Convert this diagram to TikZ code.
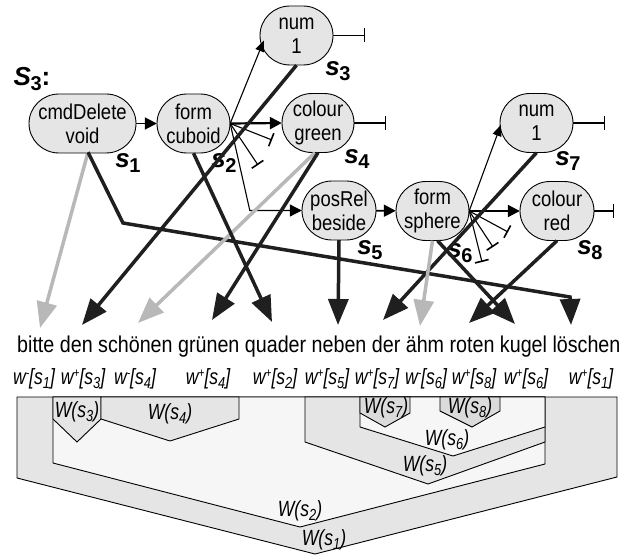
\documentclass[tikz,border=0pt]{standalone}
\usepackage{fontspec}
\setmainfont{Liberation Sans}
\newfontfamily\narrowsans[FakeStretch=0.8]{Liberation Sans}
\newfontfamily\textsans[FakeStretch=0.86]{Liberation Sans}
\usetikzlibrary{arrows.meta,calc}

\definecolor{nodefill}{gray}{0.9}
\definecolor{wordblack}{gray}{0.12}
\definecolor{wordgray}{gray}{0.72}
\definecolor{bandfill}{gray}{0.9}
\definecolor{innerfill}{gray}{0.965}
\definecolor{leaffill}{gray}{0.86}

% semantic label s_i (bold italic with a large subscript)
\newcommand\semlab[2]{\textbf{\textit{#1}}\kern-0.5pt\raisebox{-5pt}{\fontsize{20}{20}\selectfont\bfseries #2}}
% word anchor w^{+/-}[s_i]
\newcommand\wref[2]{w\raisebox{7pt}{\fontsize{13}{13}\selectfont #1}[s\raisebox{-4pt}{\fontsize{16}{16}\selectfont #2}]}
% word set W(s_i)
\newcommand\Wset[1]{W(s\raisebox{-4pt}{\fontsize{16}{16}\selectfont #1})}

% semantic node: name, x, y, width, text
% oval outline: flat top and bottom, elliptic ends of radii 30 x 29.5
\newcommand\semnode[5]{%
  \pgfmathsetmacro\hw{#4/2}%
  \pgfmathsetmacro\xa{#2+\hw-30}%   end of the flat part, right
  \pgfmathsetmacro\xb{#2-\hw+30}%   end of the flat part, left
  \pgfmathsetmacro\xr{#2+\hw}%
  \pgfmathsetmacro\xl{#2-\hw}%
  \pgfmathsetmacro\xac{\xa+16.57}%
  \pgfmathsetmacro\xbc{\xb-16.57}%
  \pgfmathsetmacro\yt{#3-29.5}%
  \pgfmathsetmacro\yb{#3+29.5}%
  \pgfmathsetmacro\ytc{#3-16.3}%
  \pgfmathsetmacro\ybc{#3+16.3}%
  \draw[semline] (\xb,\yt) -- (\xa,\yt)
    .. controls (\xac,\yt) and (\xr,\ytc) .. (\xr,#3)
    .. controls (\xr,\ybc) and (\xac,\yb) .. (\xa,\yb)
    -- (\xb,\yb)
    .. controls (\xbc,\yb) and (\xl,\ybc) .. (\xl,#3)
    .. controls (\xl,\ytc) and (\xbc,\yt) .. (\xb,\yt) -- cycle;
  \node[semtext, minimum width=#4pt] (#1) at (#2,#3) {#5};}

\begin{document}
\begin{tikzpicture}[x=1pt,y=-1pt,
  semline/.style={draw=black, line width=0.9pt, fill=nodefill},
  semtext/.style={inner sep=0pt, minimum height=59pt, align=center,
    font=\textsans\fontsize{21.5}{24}\selectfont},
  semlabel/.style={inner sep=0pt, font=\fontsize{26}{26}\selectfont},
  link/.style={line width=1.8pt, -{Triangle[length=12pt,width=12pt]}},
  thinlink/.style={line width=1.1pt, -{Triangle[length=11pt,width=9pt]}},
  block/.style={line width=1.1pt, -{Bar[width=14pt,line width=1.6pt]}},
  anchorline/.style={line width=3.5pt, draw=wordblack, -{Triangle[length=26pt,width=20pt]}},
  anchorgray/.style={anchorline, draw=wordgray},
  region/.style={draw=black, line width=0.9pt},
  reglabel/.style={inner sep=0pt, font=\narrowsans\itshape\fontsize{22}{22}\selectfont},
  wlabel/.style={inner sep=0pt, anchor=base, font=\narrowsans\itshape\fontsize{22}{22}\selectfont},
]
\useasboundingbox (0,0) rectangle (631,556);

% ---------- word sets (nested regions) ----------
\draw[region, fill=bandfill]  (17,397) -- (617,397) -- (617,477) -- (315,554) -- (17,478) -- cycle;
\draw[region, fill=innerfill] (53,397) -- (545,397) -- (545,464) -- (300,527) -- (53,463) -- cycle;
\draw[region, fill=bandfill]  (53,397) -- (101,397) -- (101,419) -- (77,442) -- (53,419) -- cycle;
\draw[region, fill=bandfill]  (101,397) -- (239,397) -- (239,419) -- (170,441) -- (101,419) -- cycle;
\draw[region, fill=bandfill]  (305,397) -- (545,397) -- (545,442) -- (428,484) -- (305,442) -- cycle;
\draw[region, fill=innerfill] (360,397) -- (545,397) -- (545,427) -- (453,456) -- (360,427) -- cycle;
\draw[region, fill=leaffill]  (360,397) -- (410,397) -- (410,413) -- (385,427) -- (360,413) -- cycle;
\draw[region, fill=leaffill]  (440,397) -- (500,397) -- (500,411) -- (472,427) -- (440,411) -- cycle;

\node[reglabel] (W3) at (77,412) {\Wset{3}};
\node[reglabel] (W4) at (170,414) {\Wset{4}};
\node[reglabel] (W7) at (386,408) {\Wset{7}};
\node[reglabel] (W8) at (470,408) {\Wset{8}};
\node[reglabel] (W6) at (447,440) {\Wset{6}};
\node[reglabel] (W5) at (425,466) {\Wset{5}};
\node[reglabel] (W2) at (300,511) {\Wset{2}};
\node[reglabel] (W1) at (324,540) {\Wset{1}};

% ---------- sentence and word anchors ----------
\node[anchor=base west, inner sep=0pt, font=\textsans\fontsize{22.9}{23}\selectfont] (sent) at (17,352)
  {bitte den schönen grünen quader neben der ähm roten kugel löschen};

\node[wlabel] (a1) at (34,384)  {\wref{-}{1}};
\node[wlabel] (a2) at (83,384)  {\wref{+}{3}};
\node[wlabel] (a3) at (135,384) {\wref{-}{4}};
\node[wlabel] (a4) at (208,384) {\wref{+}{4}};
\node[wlabel] (a5) at (275,384) {\wref{+}{2}};
\node[wlabel] (a6) at (327,384) {\wref{+}{5}};
\node[wlabel] (a7) at (377,384) {\wref{+}{7}};
\node[wlabel] (a8) at (426,384) {\wref{-}{6}};
\node[wlabel] (a9) at (474,384) {\wref{+}{8}};
\node[wlabel] (a10) at (526,384) {\wref{+}{6}};
\node[wlabel] (a11) at (591,384) {\wref{+}{1}};

% arrow tips above the words
\coordinate (tBitte)   at (40,328);
\coordinate (tDen)     at (82,325);
\coordinate (tSchoen)  at (138,323);
\coordinate (tGruen)   at (212,320);
\coordinate (tQuader)  at (272,322);
\coordinate (tNeben)   at (338,325);
\coordinate (tDer)     at (383,320);
\coordinate (tAehm)    at (420,326);
\coordinate (tRoten)   at (469,323);
\coordinate (tKugel)   at (515,324);
\coordinate (tLoeschen) at (571,325);

% ---------- semantic nodes ----------
\semnode{del}{82.5}{123.5}{107}{cmdDelete\\void}
\semnode{cub}{193.5}{123.5}{73}{form\\cuboid}
\semnode{numA}{296.5}{35.5}{73}{num\\1}
\semnode{green}{318}{123}{72}{colour\\green}
\semnode{numB}{536.5}{123}{73}{num\\1}
\semnode{rel}{339}{210.5}{74}{posRel\\beside}
\semnode{sph}{432.5}{211}{73}{form\\sphere}
\semnode{red}{557}{211}{74}{colour\\red}

\node[semlabel] (L0) at (32,79)   {\semlab{S}{3}\textbf{:}};
\node[semlabel] (L1) at (128,163) {\semlab{s}{1}};
\node[semlabel] (L2) at (224,163) {\semlab{s}{2}};
\node[semlabel] (L3) at (338,71)  {\semlab{s}{3}};
\node[semlabel] (L4) at (357,159) {\semlab{s}{4}};
\node[semlabel] (L5) at (370,250) {\semlab{s}{5}};
\node[semlabel] (L6) at (460,253) {\semlab{s}{6}};
\node[semlabel] (L7) at (568,161) {\semlab{s}{7}};
\node[semlabel] (L8) at (590,250) {\semlab{s}{8}};

% ---------- links between semantic nodes ----------
\draw[link] (del) -- (cub);
\draw[link, line width=2.2pt] (cub.east) -- (green.west);
\draw[thinlink] (cub.east) -- ([shift={(4pt,-5pt)}]numA.west);
\draw[thinlink, -{Triangle[length=12pt,width=12pt]}] (cub.east) -- ($(rel.west)+(-52,0)$) -- (rel.west);
\draw[link] (rel) -- (sph);
\draw[link, line width=2.2pt] (sph.east) -- (red.west);
\draw[thinlink] (sph.east) -- ([shift={(1pt,-2pt)}]numB.west);

% open (unfilled) slots
\coordinate (c1) at (272,140);
\coordinate (c2) at (258,165);
\draw[block] (cub.east) -- (c1);
\draw[block] (cub.east) -- (c2);
\coordinate (p1) at (508,232);
\coordinate (p2) at (493,247);
\coordinate (p3) at (482,262);
\draw[block] (sph.east) -- (p1);
\draw[block] (sph.east) -- (p2);
\draw[block] (sph.east) -- (p3);
\draw[block] (numA.east) -- ++(32,0);
\draw[block] (green.east) -- ++(32,0);
\draw[block] (numB.east) -- ++(32,0);
\draw[block] (red.east) -- ++(20,0);

% ---------- anchoring to the words ----------
\coordinate (delB) at ($(del.south)+(5.5,-1)$);
\draw[anchorgray] (delB) -- (tBitte);
\draw[anchorline] (delB) -- (123,223) -- (570,297) -- (tLoeschen);
\draw[anchorline] (numA.south) -- (tDen);
\draw[anchorgray] ($(green.south)+(-3,0)$) -- (tSchoen);
\draw[anchorline] (green.south) -- (tGruen);
\draw[anchorline] (cub.south) -- (tQuader);
\draw[anchorline] (rel.south) -- (tNeben);
\draw[anchorline] (numB.south) -- (tDer);
\draw[anchorgray] (sph.south) -- (tAehm);
\draw[anchorline] ($(sph.south)+(5,0)$) -- (tKugel);
\draw[anchorline] (red.south) -- (tRoten);
\end{tikzpicture}
\end{document}
